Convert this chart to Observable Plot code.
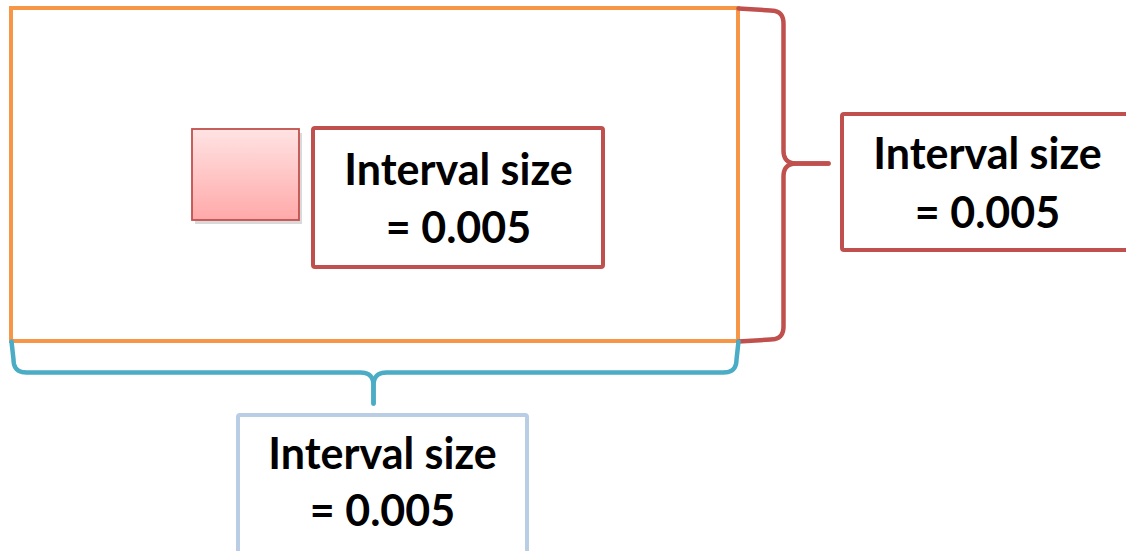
<!DOCTYPE html>
<html><head><meta charset="utf-8">
<script src="https://cdn.jsdelivr.net/npm/d3@7"></script>
<script src="https://cdn.jsdelivr.net/npm/@observablehq/plot@0.6"></script>
<style>html,body{margin:0;padding:0;background:#fff;overflow:hidden}</style>
</head><body><div id="chart"></div>
<script>
// ---- content ----
const labelLines = ["Interval size", "= 0.005"];
const boxNames = ["outer", "inner", "right", "bottom"];
const boxColors = ["#F79646", "#C0504D", "#C0504D", "#B9CDE5"];
const boxFills = ["none", "white", "white", "white"];
// ---- layout (pixel space of the diagram) ----
const boxX1 = [11, 313, 842, 238];
const boxX2 = [738, 603, 1150, 527];
const boxY1 = [8, 128, 114, 415];
const boxY2 = [341, 267, 250, 575];
const labelBoxes = ["inner", "right", "bottom"];
const labelCX = [458, 987, 382];
const labelBaseline1 = [184, 168, 468];
const labelBaseline2 = [242, 227, 525];
const cellX = [192, 299];
const cellY = [129, 220];
// braces: span along axis, back position, tip
const braceNames = ["right", "bottom"];
const braceColors = ["#C0504D", "#4BACC6"];
const braceAxis = ["y", "x"];
const braceU0 = [8, 11], braceU1 = [341, 738];
const braceV0 = [738, 341], braceVb = [783, 372], braceVt = [828, 403];
const braceUt = [163, 373];
const braceR = [13, 13];

function quad(p0, c, p1, n = 10) {
  const out = [];
  for (let i = 1; i <= n; i++) {
    const t = i / n, a = (1 - t) * (1 - t), b = 2 * (1 - t) * t, d = t * t;
    out.push([a * p0[0] + b * c[0] + d * p1[0], a * p0[1] + b * c[1] + d * p1[1]]);
  }
  return out;
}
function bracePts(i) {
  const u0 = braceU0[i], u1 = braceU1[i], v0 = braceV0[i], vb = braceVb[i], vt = braceVt[i], ut = braceUt[i], r = braceR[i];
  let p = [[u0, v0], [u0 + 2, vb - r]];
  p = p.concat(quad([u0 + 2, vb - r], [u0 + 2, vb], [u0 + 2 + r, vb]));
  p.push([ut - r, vb]);
  p = p.concat(quad([ut - r, vb], [ut, vb], [ut, vb + r]));
  p.push([ut, vt]);
  const q = [[ut, vt], [ut, vb + r]];
  const q2 = q.concat(quad([ut, vb + r], [ut, vb], [ut + r, vb]));
  q2.push([u1 - 2 - r, vb]);
  const q3 = q2.concat(quad([u1 - 2 - r, vb], [u1 - 2, vb], [u1 - 2, vb - r]));
  q3.push([u1, v0]);
  const toXY = ([u, v]) => braceAxis[i] === "y" ? {x: v, y: u} : {x: u, y: v};
  return [
    ...p.map(d => ({...toXY(d), seg: braceNames[i] + "a", color: braceColors[i]})),
    ...q3.map(d => ({...toXY(d), seg: braceNames[i] + "b", color: braceColors[i]}))
  ];
}

const boxes = boxNames.map((name, i) => ({name, x1: boxX1[i], x2: boxX2[i], y1: boxY1[i], y2: boxY2[i], color: boxColors[i], fill: boxFills[i]}));
const labels = labelBoxes.flatMap((b, i) => [
  {box: b, x: labelCX[i], y: labelBaseline1[i], text: labelLines[0]},
  {box: b, x: labelCX[i], y: labelBaseline2[i], text: labelLines[1]}
]);
const cell = [{x1: cellX[0], x2: cellX[1], y1: cellY[0], y2: cellY[1]}];
const braces = braceNames.flatMap((_, i) => bracePts(i));

const plot = Plot.plot({
  width: 1126, height: 551, margin: 0,
  x: {domain: [0, 1126], range: [0, 1126], axis: null},
  y: {domain: [0, 551], range: [0, 551], axis: null},
  color: {type: "identity"},
  style: {background: "white", overflow: "hidden"},
  marks: [
    Plot.line(braces.map(d => ({...d, x: d.x + 3, y: d.y + 4})), {x: "x", y: "y", z: "seg", stroke: "#999", strokeWidth: 5, strokeOpacity: 0.7, strokeLinecap: "round", ariaLabel: "braceshadow"}),
    Plot.rect(boxes.filter(d => d.name === "outer"), {x1: "x1", x2: "x2", y1: "y1", y2: "y2", stroke: "color", fill: "fill", strokeWidth: 4}),
    Plot.line(braces, {x: "x", y: "y", z: "seg", stroke: "color", strokeWidth: 4.5, strokeLinecap: "round", strokeLinejoin: "round"}),
    Plot.rect(cell.map(d => ({x1: d.x1 + 3, x2: d.x2 + 3, y1: d.y1 + 4, y2: d.y2 + 4})), {x1: "x1", x2: "x2", y1: "y1", y2: "y2", fill: "#000", fillOpacity: 0.15, ariaLabel: "cellshadow"}),
    Plot.rect(cell, {x1: "x1", x2: "x2", y1: "y1", y2: "y2", fill: "url(#pinkGrad)", stroke: "#C0504D", strokeWidth: 1.8}),
    Plot.rect(boxes.filter(d => d.name !== "outer"), {x1: "x1", x2: "x2", y1: "y1", y2: "y2", stroke: "color", fill: "fill", strokeWidth: 4, rx: 2}),
    Plot.text(labels, {x: "x", y: "y", text: "text", lineAnchor: "bottom", textAnchor: "middle", fontSize: 43, fontWeight: "bold", fontFamily: "Lato, 'Open Sans', sans-serif", fill: "black"})
  ]
});
const defs = d3.create("svg:defs");
const g = defs.append("linearGradient").attr("id", "pinkGrad").attr("x1", 0).attr("y1", 0).attr("x2", 0).attr("y2", 1);
g.append("stop").attr("offset", "0%").attr("stop-color", "#FFE3E3");
g.append("stop").attr("offset", "100%").attr("stop-color", "#FFA9A9");
const blur = defs.append("filter").attr("id", "blur").attr("x", "-10%").attr("y", "-10%").attr("width", "120%").attr("height", "120%");
blur.append("feGaussianBlur").attr("stdDeviation", 2);
plot.insertBefore(defs.node(), plot.firstChild);
d3.select(plot).selectAll('[aria-label="braceshadow"],[aria-label="cellshadow"]').attr("filter", "url(#blur)");
document.getElementById("chart").appendChild(plot);
</script>
</body></html>
